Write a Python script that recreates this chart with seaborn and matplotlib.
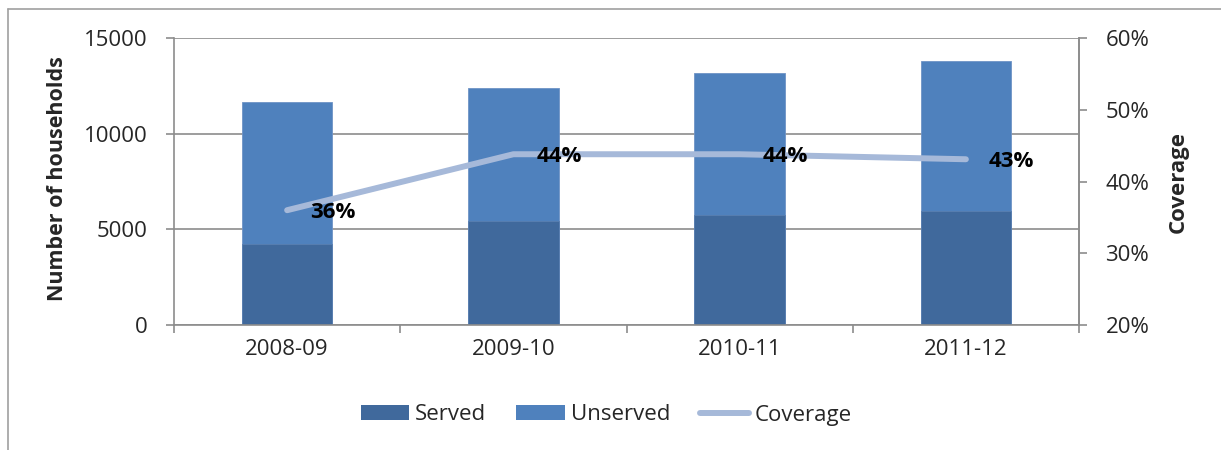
import numpy as np
import matplotlib
matplotlib.use("Agg")
import matplotlib.pyplot as plt
from matplotlib.patches import Patch
from matplotlib.lines import Line2D
from matplotlib.ticker import FuncFormatter, FixedLocator, NullFormatter
import seaborn as sns

# Households per year
years = ["2008-09", "2009-10", "2010-11", "2011-12"]
served = [4220, 5440, 5750, 5960]
unserved = [7450, 6950, 7400, 7840]
coverage = [0.36, 0.438, 0.438, 0.431]

served_color = "#40699C"
unserved_color = "#4F81BD"
line_color = "#A6B9D9"
axis_gray = "#8C8C8C"

sns.set_style("white")
plt.rcParams["font.family"] = ["Open Sans", "DejaVu Sans"]
plt.rcParams["font.size"] = 16

W, H = 1221, 450
fig = plt.figure(figsize=(W / 100, H / 100), dpi=100)
ax = fig.add_axes([174 / W, 1 - 325 / H, (1079 - 174) / W, (325 - 38) / H])

totals = [s + u for s, u in zip(served, unserved)]
sns.barplot(x=years, y=totals, color=unserved_color, width=0.4, ax=ax,
            saturation=1, edgecolor="#6F93C6", linewidth=0.6)
sns.barplot(x=years, y=served, color=served_color, width=0.4, ax=ax,
            saturation=1, edgecolor="#5A7FB0", linewidth=0.6)

ax.set_xlim(-0.5, len(years) - 0.5)
ax.set_ylim(0, 15000)
ax.set_yticks([0, 5000, 10000, 15000])
ax.set_axisbelow(True)
ax.yaxis.grid(True, color=axis_gray, linewidth=1.2)
ax.xaxis.grid(False)
ax.set_xlabel("")
ax.set_ylabel("")

# tick marks sit on category boundaries, labels on centres
ax.xaxis.set_minor_locator(FixedLocator(np.arange(-0.5, len(years), 1.0)))
ax.xaxis.set_minor_formatter(NullFormatter())
ax.tick_params(axis="x", which="major", length=0, pad=10, labelsize=16)
ax.tick_params(axis="x", which="minor", length=6, width=1.2, color=axis_gray,
               bottom=True)
ax.tick_params(axis="y", length=6, width=1.2, color=axis_gray, pad=13,
               labelsize=16, left=True)

ax.spines["top"].set_visible(False)
for side in ["left", "bottom", "right"]:
    ax.spines[side].set_color(axis_gray)
    ax.spines[side].set_linewidth(1.2)

ax2 = ax.twinx()
positions = np.arange(len(years))
sns.lineplot(x=positions, y=coverage, ax=ax2, color=line_color, linewidth=4.3,
             solid_capstyle="round", solid_joinstyle="round")
ax2.set_ylim(0.2, 0.6)
ax2.set_yticks([0.2, 0.3, 0.4, 0.5, 0.6])
ax2.yaxis.set_major_formatter(FuncFormatter(lambda v, _: f"{v:.0%}"))
ax2.tick_params(axis="y", length=6, width=1.2, color=axis_gray, pad=13,
                labelsize=16, right=True)
ax2.set_ylabel("")
for side in ["top", "left", "bottom"]:
    ax2.spines[side].set_visible(False)
ax2.spines["right"].set_color(axis_gray)
ax2.spines["right"].set_linewidth(1.2)

for x, v in zip(positions, coverage):
    ax2.annotate(f"{v:.0%}", (x, v), xytext=(16.5, -1.5),
                 textcoords="offset points", ha="left", va="center",
                 fontsize=16, fontweight="bold", color="black")

fig.text(58 / W, 1 - 179 / H, "Number of households", rotation=90,
         ha="center", va="center", fontsize=15.5, fontweight="bold")
fig.text(1178 / W, 1 - 182 / H, "Coverage", rotation=90,
         ha="center", va="center", fontsize=16, fontweight="bold")

handles = [
    Patch(facecolor=served_color, edgecolor="none", label="Served"),
    Patch(facecolor=unserved_color, edgecolor="none", label="Unserved"),
    Line2D([], [], color=line_color, linewidth=4.3, solid_capstyle="round",
           label="Coverage"),
]
fig.legend(handles=handles, loc="center", ncol=3,
           bbox_to_anchor=(606 / W, 1 - 415 / H), frameon=False,
           fontsize=16, handlelength=2.2, handleheight=0.65,
           handletextpad=0.25, columnspacing=1.35)

# chart area border
fig.add_artist(Line2D([8 / W, 8 / W], [0, 1 - 9 / H], color="#A0A0A0",
                      linewidth=1.2, transform=fig.transFigure))
fig.add_artist(Line2D([8 / W, 1], [1 - 9 / H, 1 - 9 / H], color="#A0A0A0",
                      linewidth=1.2, transform=fig.transFigure))

fig.savefig("out.png", dpi=100)
